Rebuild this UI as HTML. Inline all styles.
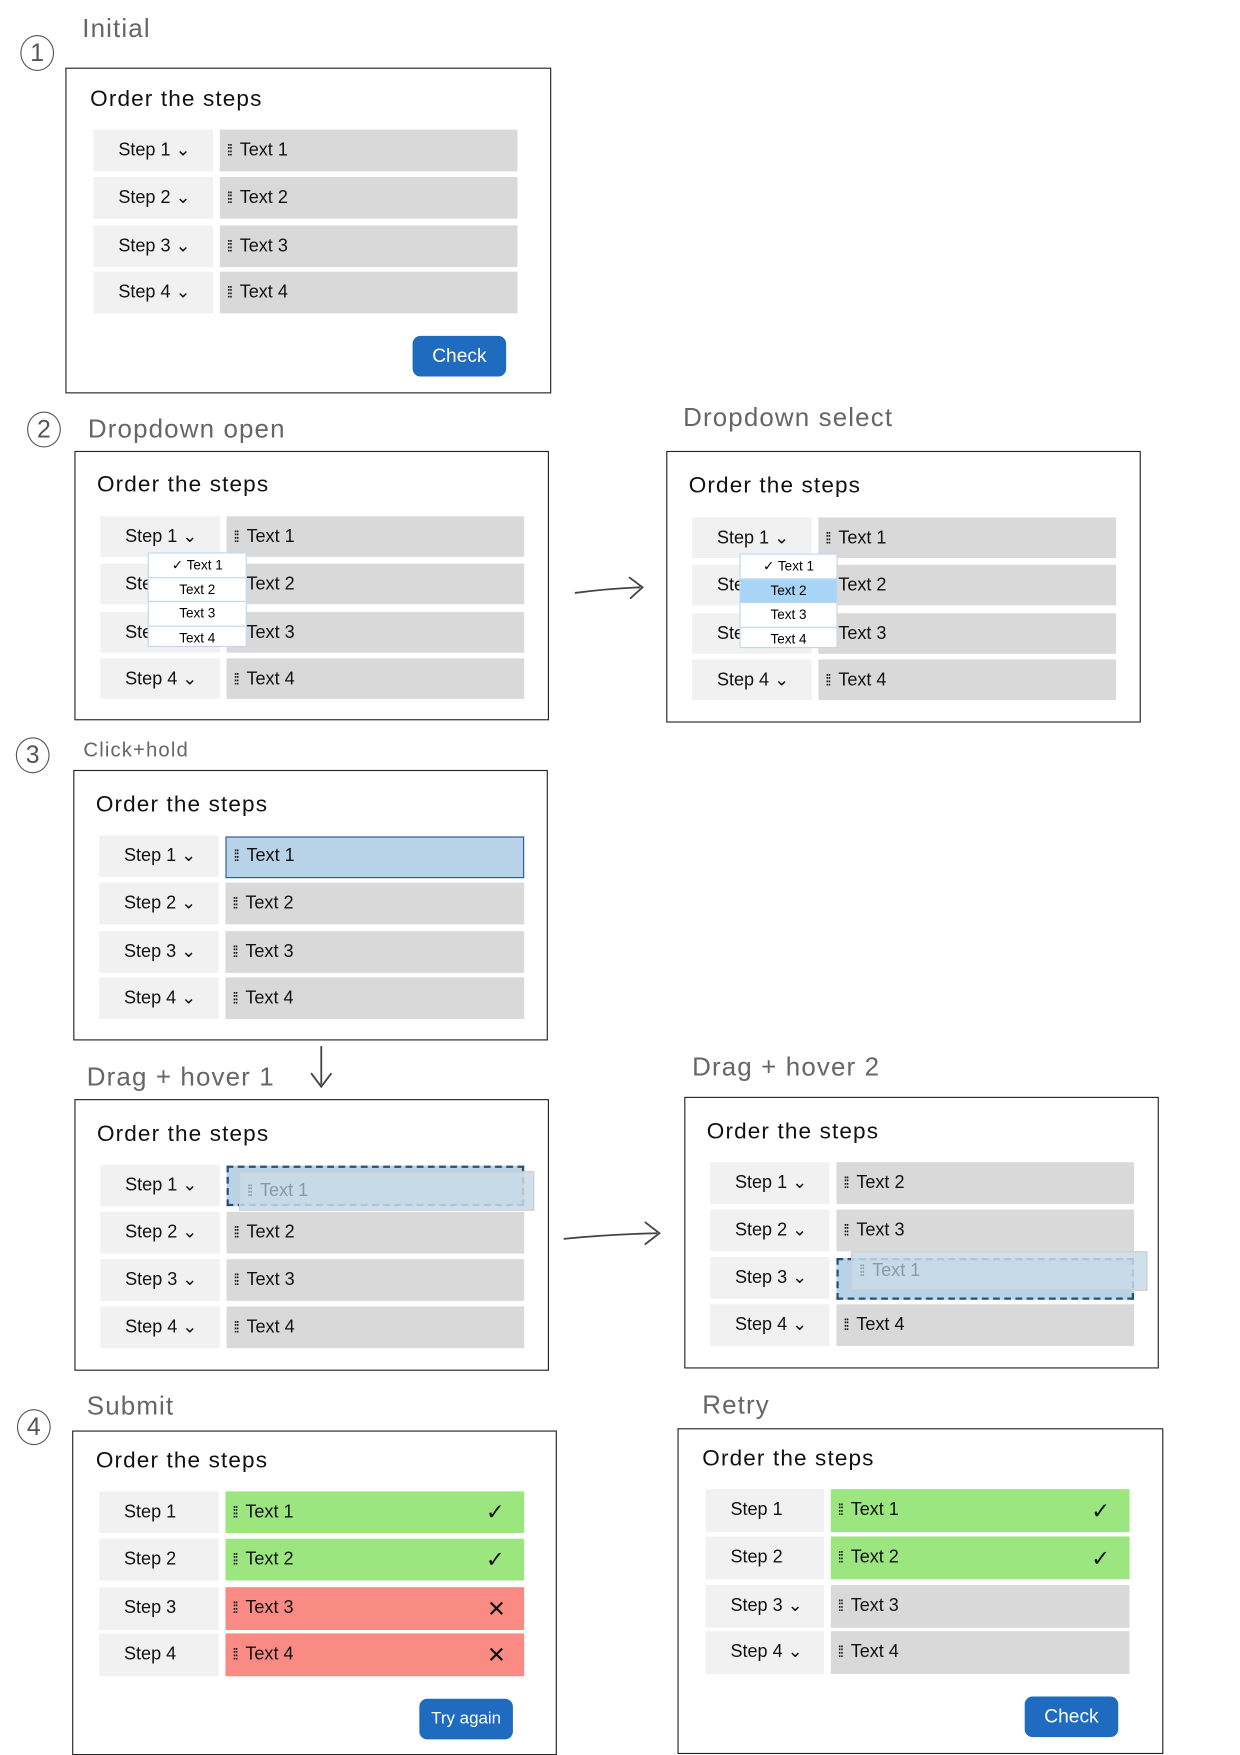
<!DOCTYPE html>
<html><head><meta charset="utf-8"><style>
html,body{margin:0;padding:0;background:#fff;}
body{width:1240px;height:1754px;overflow:hidden;position:relative;font-family:"Liberation Sans",sans-serif;}
#w{position:absolute;left:0;top:0;width:1100px;height:1556px;transform:scale(1.12727);transform-origin:0 0;}
.a{position:absolute;}
.fr{position:absolute;border:1.6px solid #222;box-sizing:border-box;background:#fff;}
.lbl{position:absolute;color:#666;font-size:23px;letter-spacing:1px;}
.num{position:absolute;width:30px;height:32px;border:1.6px solid #555;border-radius:50%;box-sizing:border-box;text-align:center;font-size:22px;line-height:29px;color:#555;}
.ttl{position:absolute;font-size:20px;color:#111;letter-spacing:1px;}
.st{position:absolute;background:#f1f1f1;font-size:16px;color:#111;line-height:37px;box-sizing:border-box;padding-left:22px;}
.tx{position:absolute;background:#d9d9d9;font-size:16px;color:#111;line-height:37px;box-sizing:border-box;padding-left:6px;}
.tx:before{content:"⁞⁞ ";font-size:14px;letter-spacing:-2px;margin-right:6px;}
.btn{position:absolute;background:#1f6bbf;color:#fff;border-radius:7px;text-align:center;font-size:17px;line-height:36px;}
.dd{position:absolute;background:#fff;border:1.5px solid #bcd6ee;box-sizing:border-box;}
.dd div{height:20.5px;border-bottom:1px solid #bcd6ee;font-size:12px;text-align:center;line-height:20px;}
.dd div:last-child{border-bottom:none;}
.mk{position:absolute;font-size:20px;color:#111;}
</style></head><body><div id="w">

<!-- Panel 1 -->
<div class="num" style="left:18px;top:31px">1</div>
<div class="lbl" style="left:73px;top:12px">Initial</div>
<div class="fr" style="left:58px;top:60px;width:431px;height:289px"></div>
<div class="ttl" style="left:80px;top:77px">Order the steps</div>
<div class="st" style="left:83px;top:115px;width:106px;height:37px">Step 1 ⌄</div><div class="tx" style="left:195px;top:115px;width:264px;height:37px">Text 1</div>
<div class="st" style="left:83px;top:157px;width:106px;height:37px">Step 2 ⌄</div><div class="tx" style="left:195px;top:157px;width:264px;height:37px">Text 2</div>
<div class="st" style="left:83px;top:200px;width:106px;height:37px">Step 3 ⌄</div><div class="tx" style="left:195px;top:200px;width:264px;height:37px">Text 3</div>
<div class="st" style="left:83px;top:241px;width:106px;height:37px">Step 4 ⌄</div><div class="tx" style="left:195px;top:241px;width:264px;height:37px">Text 4</div>
<div class="btn" style="left:366px;top:298px;width:83px;height:36px">Check</div>

<!-- Panel 2 left -->
<div class="num" style="left:24px;top:365px">2</div>
<div class="lbl" style="left:78px;top:367px">Dropdown open</div>
<div class="fr" style="left:66px;top:400px;width:421px;height:239px"></div>
<div class="ttl" style="left:86px;top:419px">Order the steps</div>
<div class="st" style="left:89px;top:458px;width:106px;height:36px">Step 1 ⌄</div><div class="tx" style="left:201px;top:458px;width:264px;height:36px">Text 1</div>
<div class="st" style="left:89px;top:500px;width:106px;height:36px">Step 2</div><div class="tx" style="left:201px;top:500px;width:264px;height:36px">Text 2</div>
<div class="st" style="left:89px;top:543px;width:106px;height:36px">Step 3</div><div class="tx" style="left:201px;top:543px;width:264px;height:36px">Text 3</div>
<div class="st" style="left:89px;top:584px;width:106px;height:36px">Step 4 ⌄</div><div class="tx" style="left:201px;top:584px;width:264px;height:36px">Text 4</div>
<div class="dd" style="left:131px;top:490px;width:88px;height:84px"><div>✓ Text 1</div><div>Text 2</div><div>Text 3</div><div>Text 4</div></div>

<svg class="a" style="left:0;top:0" width="1100" height="1556">
<path d="M510 526 Q540 522 568 521" stroke="#444" stroke-width="1.6" fill="none"/><path d="M558 512 L570 521 L559 531" stroke="#444" stroke-width="1.6" fill="none"/>
<path d="M285 928 L285 962" stroke="#444" stroke-width="1.6" fill="none"/><path d="M276 952 L285 964 L294 952" stroke="#444" stroke-width="1.6" fill="none"/>
<path d="M500 1099 Q540 1095 583 1094" stroke="#444" stroke-width="1.6" fill="none"/><path d="M572 1084 L585 1094 L572 1104" stroke="#444" stroke-width="1.6" fill="none"/>
</svg>

<!-- Panel 2 right -->
<div class="lbl" style="left:606px;top:357px">Dropdown select</div>
<div class="fr" style="left:591px;top:400px;width:421px;height:241px"></div>
<div class="ttl" style="left:611px;top:420px">Order the steps</div>
<div class="st" style="left:614px;top:459px;width:106px;height:36px">Step 1 ⌄</div><div class="tx" style="left:726px;top:459px;width:264px;height:36px">Text 1</div>
<div class="st" style="left:614px;top:501px;width:106px;height:36px">Step 2</div><div class="tx" style="left:726px;top:501px;width:264px;height:36px">Text 2</div>
<div class="st" style="left:614px;top:544px;width:106px;height:36px">Step 3</div><div class="tx" style="left:726px;top:544px;width:264px;height:36px">Text 3</div>
<div class="st" style="left:614px;top:585px;width:106px;height:36px">Step 4 ⌄</div><div class="tx" style="left:726px;top:585px;width:264px;height:36px">Text 4</div>
<div class="dd" style="left:656px;top:491px;width:87px;height:84px"><div>✓ Text 1</div><div style="background:#a8d4f5">Text 2</div><div>Text 3</div><div>Text 4</div></div>

<!-- Panel 3 -->
<div class="num" style="left:14px;top:654px">3</div>
<div class="lbl" style="left:74px;top:655px;font-size:18px">Click+hold</div>
<div class="fr" style="left:65px;top:683px;width:421px;height:240px"></div>
<div class="ttl" style="left:85px;top:703px">Order the steps</div>
<div class="st" style="left:88px;top:741px;width:106px;height:37px">Step 1 ⌄</div><div class="tx" style="left:200px;top:742px;width:265px;height:37px;background:#b8d3e8;border:1.6px solid #2a5a8a;line-height:33px">Text 1</div>
<div class="st" style="left:88px;top:783px;width:106px;height:37px">Step 2 ⌄</div><div class="tx" style="left:200px;top:783px;width:265px;height:37px">Text 2</div>
<div class="st" style="left:88px;top:826px;width:106px;height:37px">Step 3 ⌄</div><div class="tx" style="left:200px;top:826px;width:265px;height:37px">Text 3</div>
<div class="st" style="left:88px;top:867px;width:106px;height:37px">Step 4 ⌄</div><div class="tx" style="left:200px;top:867px;width:265px;height:37px">Text 4</div>

<!-- Drag hover 1 -->
<div class="lbl" style="left:77px;top:942px">Drag + hover 1</div>
<div class="fr" style="left:66px;top:975px;width:421px;height:241px"></div>
<div class="ttl" style="left:86px;top:995px">Order the steps</div>
<div class="st" style="left:89px;top:1033px;width:106px;height:37px">Step 1 ⌄</div>
<div class="a" style="left:201px;top:1034px;width:264px;height:36px;background:#b8d3e8;border:2px dashed #2a4f70;box-sizing:border-box"></div>
<div class="tx" style="left:212px;top:1039px;width:262px;height:35px;background:rgba(200,218,232,0.85);border:1px solid #ccc;color:#8899a6;line-height:33px">Text 1</div>
<div class="st" style="left:89px;top:1075px;width:106px;height:37px">Step 2 ⌄</div><div class="tx" style="left:201px;top:1075px;width:264px;height:37px">Text 2</div>
<div class="st" style="left:89px;top:1117px;width:106px;height:37px">Step 3 ⌄</div><div class="tx" style="left:201px;top:1117px;width:264px;height:37px">Text 3</div>
<div class="st" style="left:89px;top:1159px;width:106px;height:37px">Step 4 ⌄</div><div class="tx" style="left:201px;top:1159px;width:264px;height:37px">Text 4</div>

<!-- Drag hover 2 -->
<div class="lbl" style="left:614px;top:933px">Drag + hover 2</div>
<div class="fr" style="left:607px;top:973px;width:421px;height:241px"></div>
<div class="ttl" style="left:627px;top:993px">Order the steps</div>
<div class="st" style="left:630px;top:1031px;width:106px;height:37px">Step 1 ⌄</div><div class="tx" style="left:742px;top:1031px;width:264px;height:37px">Text 2</div>
<div class="st" style="left:630px;top:1073px;width:106px;height:37px">Step 2 ⌄</div><div class="tx" style="left:742px;top:1073px;width:264px;height:37px">Text 3</div>
<div class="st" style="left:630px;top:1115px;width:106px;height:37px">Step 3 ⌄</div>
<div class="a" style="left:742px;top:1116px;width:264px;height:37px;background:#b8d3e8;border:2px dashed #2a4f70;box-sizing:border-box"></div>
<div class="tx" style="left:755px;top:1110px;width:263px;height:35px;background:rgba(200,218,232,0.85);border:1px solid #ccc;color:#8899a6;line-height:33px">Text 1</div>
<div class="st" style="left:630px;top:1157px;width:106px;height:37px">Step 4 ⌄</div><div class="tx" style="left:742px;top:1157px;width:264px;height:37px">Text 4</div>

<!-- Panel 4 Submit -->
<div class="num" style="left:15px;top:1250px">4</div>
<div class="lbl" style="left:77px;top:1234px">Submit</div>
<div class="fr" style="left:64px;top:1269px;width:430px;height:288px"></div>
<div class="ttl" style="left:85px;top:1285px">Order the steps</div>
<div class="st" style="left:88px;top:1323px;width:106px;height:37px">Step 1</div><div class="tx" style="left:200px;top:1323px;width:265px;height:37px;background:#9be67e">Text 1</div><div class="mk" style="left:431px;top:1329px">✓</div>
<div class="st" style="left:88px;top:1365px;width:106px;height:37px">Step 2</div><div class="tx" style="left:200px;top:1365px;width:265px;height:37px;background:#9be67e">Text 2</div><div class="mk" style="left:431px;top:1371px">✓</div>
<div class="st" style="left:88px;top:1408px;width:106px;height:38px">Step 3</div><div class="tx" style="left:200px;top:1408px;width:265px;height:38px;background:#f98a84">Text 3</div><div class="mk" style="left:432px;top:1415px">✕</div>
<div class="st" style="left:88px;top:1449px;width:106px;height:38px">Step 4</div><div class="tx" style="left:200px;top:1449px;width:265px;height:38px;background:#f98a84">Text 4</div><div class="mk" style="left:432px;top:1456px">✕</div>
<div class="btn" style="left:372px;top:1507px;width:83px;height:36px;font-size:15px">Try again</div>

<!-- Retry -->
<div class="lbl" style="left:623px;top:1233px">Retry</div>
<div class="fr" style="left:601px;top:1267px;width:431px;height:289px"></div>
<div class="ttl" style="left:623px;top:1283px">Order the steps</div>
<div class="st" style="left:626px;top:1321px;width:105px;height:38px">Step 1</div><div class="tx" style="left:737px;top:1321px;width:265px;height:38px;background:#9be67e">Text 1</div><div class="mk" style="left:968px;top:1328px">✓</div>
<div class="st" style="left:626px;top:1363px;width:105px;height:38px">Step 2</div><div class="tx" style="left:737px;top:1363px;width:265px;height:38px;background:#9be67e">Text 2</div><div class="mk" style="left:968px;top:1370px">✓</div>
<div class="st" style="left:626px;top:1406px;width:105px;height:38px">Step 3 ⌄</div><div class="tx" style="left:737px;top:1406px;width:265px;height:38px">Text 3</div>
<div class="st" style="left:626px;top:1447px;width:105px;height:38px">Step 4 ⌄</div><div class="tx" style="left:737px;top:1447px;width:265px;height:38px">Text 4</div>
<div class="btn" style="left:909px;top:1505px;width:83px;height:36px">Check</div>

</div></body></html>
